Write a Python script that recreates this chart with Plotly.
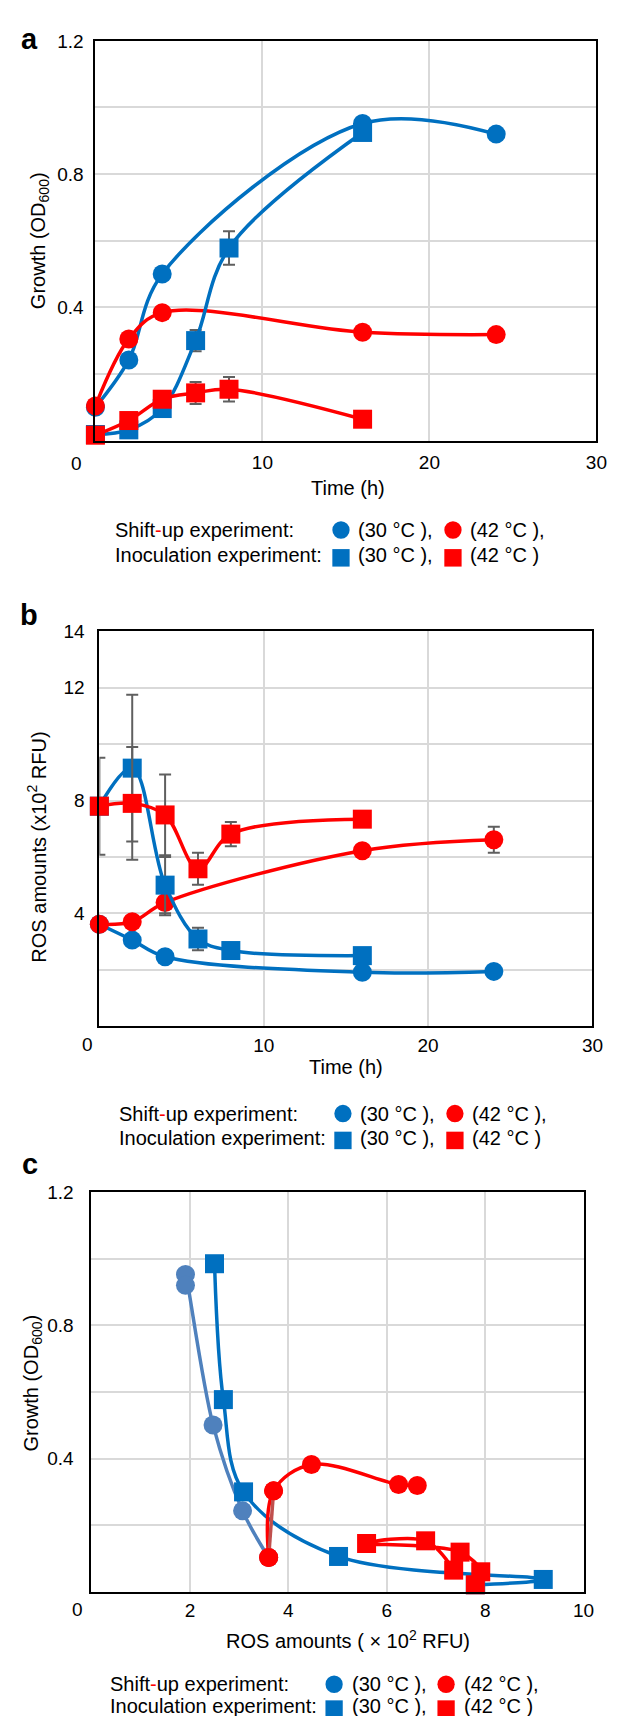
import plotly.graph_objects as go

# ---------------- data ----------------
# Panel a: growth (OD600) vs time
t_shift = [0, 2, 4, 16, 24]
t_inoc = [0, 2, 4, 6, 8, 16]

a_shift30 = [0.10, 0.242, 0.50, 0.952, 0.920]
a_shift42 = [0.104, 0.305, 0.384, 0.325, 0.318]
a_inoc30 = [0.018, 0.032, 0.096, 0.300, 0.578, 0.925]
a_inoc42 = [0.016, 0.060, 0.124, 0.143, 0.154, 0.064]
a_inoc30_err = [None, None, None, 0.032, 0.05, None]
a_inoc42_err = [None, None, None, 0.033, 0.037, None]

# Panel b: ROS amounts (x10^2 RFU) vs time
b_shift30 = [3.61, 3.05, 2.46, 1.91, 1.94]
b_shift42 = [3.61, 3.70, 4.38, 6.22, 6.61]
b_inoc30 = [7.8, 9.15, 5.0, 3.09, 2.68, 2.50]
b_inoc42 = [7.8, 7.9, 7.49, 5.58, 6.81, 7.34]
b_shift42_err = [None, None, 0.45, None, 0.46]
b_inoc30_err = [None, 2.6, 1.0, 0.4, None, None]
b_inoc42_err = [1.72, 2.0, 1.43, 0.57, 0.43, None]

# Panel c: growth vs ROS
c_shift30_x = [3.60, 3.07, 2.47, 1.91, 1.91]
c_shift30_y = [0.103, 0.243, 0.501, 0.953, 0.920]
c_shift42_x = [3.60, 3.70, 4.47, 6.24, 6.62]
c_shift42_y = [0.103, 0.303, 0.382, 0.322, 0.319]
c_inoc30_x = [7.80, 9.18, 5.02, 3.09, 2.68, 2.50]
c_inoc30_y = [0.021, 0.037, 0.106, 0.300, 0.577, 0.985]
c_inoc42_x = [7.80, 7.91, 7.49, 5.59, 6.79, 7.36]
c_inoc42_y = [0.021, 0.060, 0.119, 0.145, 0.153, 0.065]

time_ticks = [10, 20, 30]
od_ticks = [0.4, 0.8, 1.2]
ros_ticks = [4, 8, 12, 14]
rosx_ticks = [2, 4, 6, 8, 10]

# ---------------- style ----------------
W, H = 620, 1716
BLUE = "#0070C0"
STEEL = "#4F81BD"
RED = "#FF0000"
BROWN = "#C0504D"
ERR = "#5F5F5F"
FONT = "Liberation Sans, Arial, sans-serif"
MS = 19
LW = 3.5


def px(x):
    return x / W


def py(y):
    return 1 - y / H


def err(arr):
    return dict(type="data", array=arr, visible=True, color=ERR, thickness=2, width=6)


fig = go.Figure()


def add(x, y, sym, color, xa, ya, e=None):
    fig.add_trace(go.Scatter(
        x=x, y=y, mode="lines+markers",
        line=dict(color=color, width=LW, shape="spline", smoothing=1),
        marker=dict(symbol=sym, size=MS, color=color, line=dict(width=0)),
        error_y=err(e) if e is not None else None,
        xaxis=xa, yaxis=ya, cliponaxis=False, showlegend=False, hoverinfo="skip"))


# Panel a
add(t_shift, a_shift30, "circle", BLUE, "x", "y")
add(t_shift, a_shift42, "circle", RED, "x", "y")
add(t_inoc, a_inoc30, "square", BLUE, "x", "y", a_inoc30_err)
add(t_inoc, a_inoc42, "square", RED, "x", "y", a_inoc42_err)

# Panel b
add(t_shift, b_shift30, "circle", BLUE, "x2", "y2")
add(t_shift, b_shift42, "circle", RED, "x2", "y2", b_shift42_err)
add(t_inoc, b_inoc30, "square", BLUE, "x2", "y2", b_inoc30_err)
add(t_inoc, b_inoc42, "square", RED, "x2", "y2", b_inoc42_err)

# Panel c
add(c_shift30_x, c_shift30_y, "circle", STEEL, "x3", "y3")
add(c_inoc30_x, c_inoc30_y, "square", BLUE, "x3", "y3")
add(c_shift42_x, c_shift42_y, "circle", RED, "x3", "y3")
fig.add_trace(go.Scatter(x=c_shift42_x[:2], y=c_shift42_y[:2], mode="lines",
                         line=dict(color=BROWN, width=LW), xaxis="x3", yaxis="y3",
                         showlegend=False, hoverinfo="skip"))
fig.add_trace(go.Scatter(x=c_shift42_x[:2], y=c_shift42_y[:2], mode="markers",
                         marker=dict(symbol="circle", size=MS, color=RED),
                         xaxis="x3", yaxis="y3", cliponaxis=False,
                         showlegend=False, hoverinfo="skip"))
add(c_inoc42_x, c_inoc42_y, "square", RED, "x3", "y3")

GRID = "#D9D9D9"
axis_common = dict(showline=True, mirror=True, linecolor="black", linewidth=2,
                   showgrid=True, gridcolor=GRID, gridwidth=1.5,
                   zeroline=False, ticks="", tickmode="array",
                   tickfont=dict(family=FONT, size=19, color="black"))


def minor(d):
    return dict(dtick=d, showgrid=True, gridcolor=GRID, gridwidth=1.5, ticks="")


fig.update_layout(
    width=W, height=H, margin=dict(l=0, r=0, t=0, b=0),
    paper_bgcolor="white", plot_bgcolor="white",
    font=dict(family=FONT, size=20, color="black"),
    xaxis=dict(domain=[px(89), px(599)], range=[0, 30], anchor="y",
               tickvals=time_ticks, ticklabelstandoff=4, **axis_common),
    yaxis=dict(domain=[py(425), py(23)], range=[0, 1.2], anchor="x",
               tickvals=od_ticks, ticklabelstandoff=6, minor=minor(0.2), **axis_common),
    xaxis2=dict(domain=[px(93), px(595)], range=[0, 30], anchor="y2",
                tickvals=time_ticks, ticklabelstandoff=1, **axis_common),
    yaxis2=dict(domain=[py(1014), py(617)], range=[0, 14], anchor="x2",
                tickvals=ros_ticks, ticklabelstandoff=9, minor=minor(2), **axis_common),
    xaxis3=dict(domain=[px(85), px(586)], range=[0, 10], anchor="y3",
                tickvals=rosx_ticks, ticklabelstandoff=0, **axis_common),
    yaxis3=dict(domain=[py(1583), py(1181)], range=[0, 1.2], anchor="x3",
                tickvals=od_ticks, ticklabelstandoff=12, minor=minor(0.2), **axis_common),
)

ann = []


def text(s, x, y, size=20, xanchor="center", angle=0, bold=False):
    ann.append(dict(text=("<b>%s</b>" % s) if bold else s, x=px(x), y=py(y),
                    xref="paper", yref="paper", xanchor=xanchor, yanchor="middle",
                    showarrow=False, textangle=angle,
                    font=dict(family=FONT, size=size, color="black")))


# panel letters
text("a", 22, 21, 29, bold=True)
text("b", 21, 601, 29, bold=True)
text("c", 22, 1153, 29, bold=True)

# axis titles
text("Growth (OD<sub>600</sub>)", 32, 224, angle=-90)
text("Time (h)", 346, 473)
text("ROS amounts (x10<sup>2</sup> RFU)", 29, 834, angle=-90)
text("Time (h)", 344, 1055)
text("Growth (OD<sub>600</sub>)", 25, 1373, angle=-90)
text("ROS amounts ( × 10<sup>2</sup> RFU)", 346, 1631)

# "0" x tick labels (drawn a little left of the axis origin, as in the source)
for xa, ya_px, shift in (("x", 448, -19), ("x2", 1033, -12), ("x3", 1601, -14)):
    ann.append(dict(text="0", x=0, y=py(ya_px), xref=xa, yref="paper", xshift=shift,
                    xanchor="center", yanchor="middle", showarrow=False,
                    font=dict(family=FONT, size=19, color="black")))

# legends
shapes = []
HYPH = 'Shift<span style="color:#FF0000">-</span>up experiment:'


def legend(x0, y1, y2, cx1, cx2, tx1, tx2, cy1, cy2):
    text(HYPH, x0, y1, xanchor="left")
    text("Inoculation experiment:", x0, y2, xanchor="left")
    text("(30 °C ),", tx1, y1, xanchor="left")
    text("(42 °C ),", tx2, y1, xanchor="left")
    text("(30 °C ),", tx1, y2, xanchor="left")
    text("(42 °C )", tx2, y2, xanchor="left")
    r = 8.8
    for cx, col in ((cx1, BLUE), (cx2, RED)):
        shapes.append(dict(type="circle", xref="paper", yref="paper",
                           x0=px(cx - r), x1=px(cx + r), y0=py(cy1 + r), y1=py(cy1 - r),
                           fillcolor=col, line=dict(width=0)))
        shapes.append(dict(type="rect", xref="paper", yref="paper",
                           x0=px(cx - r), x1=px(cx + r), y0=py(cy2 + r), y1=py(cy2 - r),
                           fillcolor=col, line=dict(width=0)))


legend(107, 515, 540, 339, 453, 354, 468, 515, 543)
legend(111, 1102, 1127, 341, 455, 356, 470, 1102, 1129)
legend(102, 1676, 1698, 332, 446, 348, 462, 1676, 1701)

fig.update_layout(annotations=ann, shapes=shapes)
fig.write_html("out.html")
